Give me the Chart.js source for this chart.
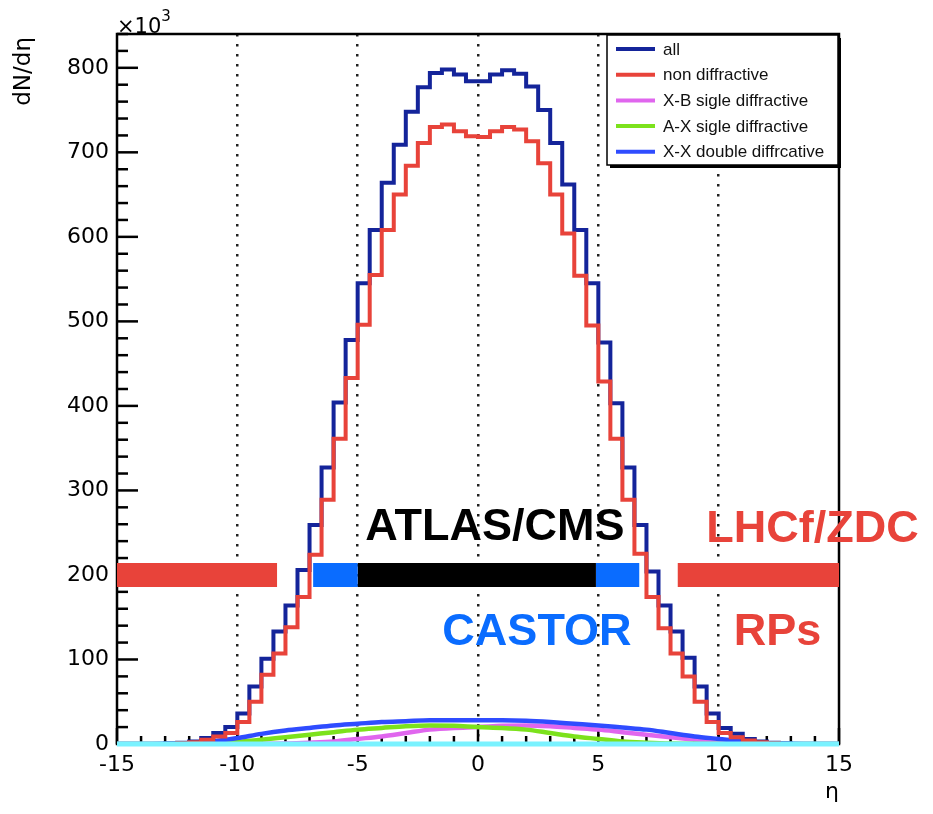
<!DOCTYPE html>
<html>
<head>
<meta charset="utf-8">
<title>dN/deta</title>
<script src="https://cdn.jsdelivr.net/npm/chart.js@4.4.1/dist/chart.umd.min.js"></script>
<style>
  html, body { margin: 0; padding: 0; background: #fff; }
  #wrap { width: 933px; height: 814px; }
</style>
</head>
<body>
<div id="wrap"><canvas id="etaChart" width="933" height="814"></canvas></div>
<script>
// 60 bins of 0.5 in eta, from -15 to 15 (values in units of 10^3)
const ETA_MIN = -15;
const ETA_MAX = 15;
const BIN_WIDTH = 0.5;

const allCounts = [
    0, 0, 0, 0, 0.5, 1.5, 3, 7, 13, 20,
    36, 68, 101, 133, 164, 206, 259, 327, 404, 478,
    545, 608, 664, 709, 748, 777, 794, 798, 792, 784,
    784, 792, 797, 793, 778, 750, 711, 662, 608, 545,
    475, 403, 327, 259, 204, 164, 133, 102, 68, 36,
    19, 12, 6, 3, 1.5, 0.5, 0, 0, 0, 0
];
const nonDiffCounts = [
    0, 0, 0, 0, 0, 1, 2, 5, 9, 13,
    26, 50, 82, 107, 138, 174, 224, 289, 361, 433,
    496, 555, 608, 650, 684, 711, 730, 733, 725, 719,
    718, 725, 730, 727, 713, 687, 650, 604, 554, 495,
    429, 361, 289, 225, 174, 137, 107, 80, 50, 26,
    13, 8, 4, 2, 1, 0, 0, 0, 0, 0
];

// smooth diffractive components, read at integer eta
const curveEta = [-15, -14, -13, -12, -11, -10, -9, -8, -7, -6, -5, -4, -3, -2, -1, 0,
                  1, 2, 3, 4, 5, 6, 7, 8, 9, 10, 11, 12, 13, 14, 15];
const xbSingle = [0, 0, 0, 0, 0, 0, 0.2, 0.5, 1.5, 3, 6, 9, 13, 17, 19, 20,
                  21.5, 22, 21, 19, 17, 14, 11, 8, 5, 2.5, 1, 0.3, 0, 0, 0];
const axSingle = [0, 0, 0, 0.3, 1, 2.5, 5, 8, 11, 14, 17, 19, 21, 22, 21.5, 20,
                  19, 17, 13, 9, 6, 3, 1.5, 0.5, 0.2, 0, 0, 0, 0, 0, 0];
const xxDouble = [0, 0, 0.3, 1, 3, 7, 12, 16, 19, 22, 24, 26, 27, 28, 28, 28,
                  28, 27.5, 26, 24, 22, 19.5, 17, 13, 9, 6, 3, 1, 0.3, 0, 0];
const flatBase = [0, 0, 0, 0, 0, 0, 0, 0, 0, 0, 0, 0, 0, 0, 0, 0,
                  0, 0, 0, 0, 0, 0, 0, 0, 0, 0, 0, 0, 0, 0, 0];

// detector coverage bands, drawn at dN/deta = 200
const bandLevel = 200;
const bandFrom = [-15, -6.85, -5.0, 4.9, 8.3];
const bandTo = [-8.35, -5.0, 4.9, 6.7, 15];
const bandColors = ['#e8433a', '#0a6cff', '#000000', '#0a6cff', '#e8433a'];

// detector names (eta centre, dN/deta at baseline)
const labelTexts = ['ATLAS/CMS', 'CASTOR', 'LHCf/ZDC', 'RPs'];
const labelEta = [0.7, 2.45, 13.9, 12.45];
const labelLevel = [241, 117, 239, 117];
const labelColors = ['#000000', '#0a6cff', '#e8433a', '#e8433a'];

const yTicksMajor = [0, 100, 200, 300, 400, 500, 600, 700, 800];
const xTicksMajor = [-15, -10, -5, 0, 5, 10, 15];

function histPoints(counts) {
    const pts = counts.map((c, i) => ({ x: ETA_MIN + i * BIN_WIDTH, y: c }));
    pts.push({ x: ETA_MAX, y: counts[counts.length - 1] });
    return pts;
}

function curvePoints(values) {
    return values.map((v, i) => ({ x: curveEta[i], y: v }));
}

function histSet(label, counts, color, order) {
    return {
        label: label, data: histPoints(counts), borderColor: color,
        borderWidth: 4, stepped: true, pointRadius: 0, fill: false,
        order: order, inLegend: true
    };
}

function curveSet(label, values, color, order, inLegend) {
    return {
        label: label, data: curvePoints(values), borderColor: color,
        borderWidth: 4.5, cubicInterpolationMode: 'monotone', pointRadius: 0,
        fill: false, order: order, inLegend: inLegend
    };
}

const baseLine = curveSet('', flatBase, '#7af2ff', 0, false);
baseLine.borderWidth = 5;
baseLine.clip = false;

const datasets = [
    histSet('all', allCounts, '#14249a', 4),
    histSet('non diffractive', nonDiffCounts, '#e8433a', 3),
    curveSet('X-B sigle diffractive', xbSingle, '#e066ee', 7, true),
    curveSet('A-X sigle diffractive', axSingle, '#7ce21c', 6, true),
    curveSet('X-X double diffrcative', xxDouble, '#2f4cff', 5, true),
    baseLine
];

bandFrom.forEach((from, i) => {
    datasets.push({
        label: '', data: [{ x: from, y: bandLevel }, { x: bandTo[i], y: bandLevel }],
        borderColor: bandColors[i], borderWidth: 24, borderCapStyle: 'butt',
        pointRadius: 0, fill: false, order: 1, inLegend: false
    });
});

// frame + inward tick marks go under the data, texts and legend on top
const decorations = {
    id: 'decorations',
    beforeDatasetsDraw(chart) {
        const ctx = chart.ctx;
        const area = chart.chartArea;
        const xs = chart.scales.x;
        const ys = chart.scales.y;
        ctx.save();
        ctx.strokeStyle = '#000';
        ctx.lineWidth = 2.5;
        ys.ticks.forEach(t => {
            const py = ys.getPixelForValue(t.value);
            const len = yTicksMajor.includes(t.value) ? 21 : 11;
            ctx.beginPath();
            ctx.moveTo(area.left, py);
            ctx.lineTo(area.left + len, py);
            ctx.stroke();
        });
        xs.ticks.forEach(t => {
            const px = xs.getPixelForValue(t.value);
            const len = xTicksMajor.includes(t.value) ? 16 : 8;
            ctx.beginPath();
            ctx.moveTo(px, area.bottom);
            ctx.lineTo(px, area.bottom - len);
            ctx.stroke();
        });
        ctx.strokeRect(area.left, area.top, area.right - area.left, area.bottom - area.top);
        ctx.restore();
    },
    afterDraw(chart) {
        const ctx = chart.ctx;
        const area = chart.chartArea;
        const xs = chart.scales.x;
        const ys = chart.scales.y;
        ctx.save();

        // detector names
        ctx.font = 'bold 45px "Liberation Sans", Arial, sans-serif';
        ctx.textAlign = 'center';
        ctx.textBaseline = 'alphabetic';
        labelTexts.forEach((txt, i) => {
            ctx.fillStyle = labelColors[i];
            ctx.fillText(txt, xs.getPixelForValue(labelEta[i]), ys.getPixelForValue(labelLevel[i]));
        });

        // axis titles
        ctx.fillStyle = '#000';
        ctx.font = '22px "DejaVu Sans", sans-serif';
        ctx.textAlign = 'right';
        ctx.fillText('\u03b7', area.right, 798);

        ctx.save();
        ctx.translate(30, area.top + 3);
        ctx.rotate(-Math.PI / 2);
        ctx.font = '23px "DejaVu Sans", sans-serif';
        ctx.textAlign = 'right';
        ctx.textBaseline = 'alphabetic';
        ctx.fillText('dN/d\u03b7', 0, 0);
        ctx.restore();

        // x10^3 exponent
        ctx.textAlign = 'left';
        ctx.font = '21px "DejaVu Sans", sans-serif';
        ctx.fillText('\u00d710', area.left, area.top - 1);
        const w = ctx.measureText('\u00d710').width;
        ctx.font = '15px "DejaVu Sans", sans-serif';
        ctx.fillText('3', area.left + w, area.top - 13);

        // legend box
        const entries = chart.data.datasets.filter(d => d.inLegend);
        const boxX = 607, boxY = area.top + 1, boxW = 231, boxH = 130;
        ctx.fillStyle = '#fff';
        ctx.fillRect(boxX, boxY, boxW, boxH);
        ctx.fillStyle = '#000';
        ctx.fillRect(boxX + 3, boxY + boxH, boxW, 3);
        ctx.fillRect(boxX + boxW, boxY + 3, 3, boxH);
        ctx.lineWidth = 1.5;
        ctx.strokeStyle = '#000';
        ctx.strokeRect(boxX, boxY, boxW, boxH);
        ctx.font = '17px "Liberation Sans", Arial, sans-serif';
        ctx.textAlign = 'left';
        ctx.textBaseline = 'middle';
        entries.forEach((d, i) => {
            const rowY = boxY + 14 + i * 25.7;
            ctx.strokeStyle = d.borderColor;
            ctx.lineWidth = 4;
            ctx.beginPath();
            ctx.moveTo(boxX + 9, rowY);
            ctx.lineTo(boxX + 48, rowY);
            ctx.stroke();
            ctx.fillStyle = '#111';
            ctx.fillText(d.label, boxX + 56, rowY + 1);
        });

        ctx.restore();
    }
};

new Chart(document.getElementById('etaChart'), {
    type: 'line',
    data: { datasets: datasets },
    options: {
        responsive: false,
        animation: false,
        devicePixelRatio: 1,
        layout: { padding: { top: 34, right: 94, left: 0, bottom: 0 } },
        plugins: {
            legend: { display: false },
            tooltip: { enabled: false }
        },
        scales: {
            x: {
                type: 'linear',
                min: ETA_MIN,
                max: ETA_MAX,
                afterFit: s => { s.height = 70; },
                ticks: {
                    stepSize: 1,
                    autoSkip: false,
                    maxRotation: 0,
                    padding: 8,
                    color: '#000',
                    font: { family: '"DejaVu Sans", sans-serif', size: 22 },
                    callback: v => (xTicksMajor.includes(v) ? String(v) : '')
                },
                grid: {
                    drawTicks: false,
                    lineWidth: 2.5,
                    color: c => {
                        const v = c.tick ? c.tick.value : null;
                        return (v !== null && v % 5 === 0 && Math.abs(v) !== 15) ? '#222' : 'rgba(0,0,0,0)';
                    }
                },
                border: { display: false, dash: [2.5, 7.5] }
            },
            y: {
                type: 'linear',
                min: 0,
                max: 840,
                afterFit: s => { s.width = 117; },
                ticks: {
                    stepSize: 20,
                    autoSkip: false,
                    padding: 8,
                    color: '#000',
                    font: { family: '"DejaVu Sans", sans-serif', size: 22 },
                    callback: v => (yTicksMajor.includes(v) ? String(v) : '')
                },
                grid: { display: false, drawTicks: false },
                border: { display: false }
            }
        }
    },
    plugins: [decorations]
});
</script>
</body>
</html>
